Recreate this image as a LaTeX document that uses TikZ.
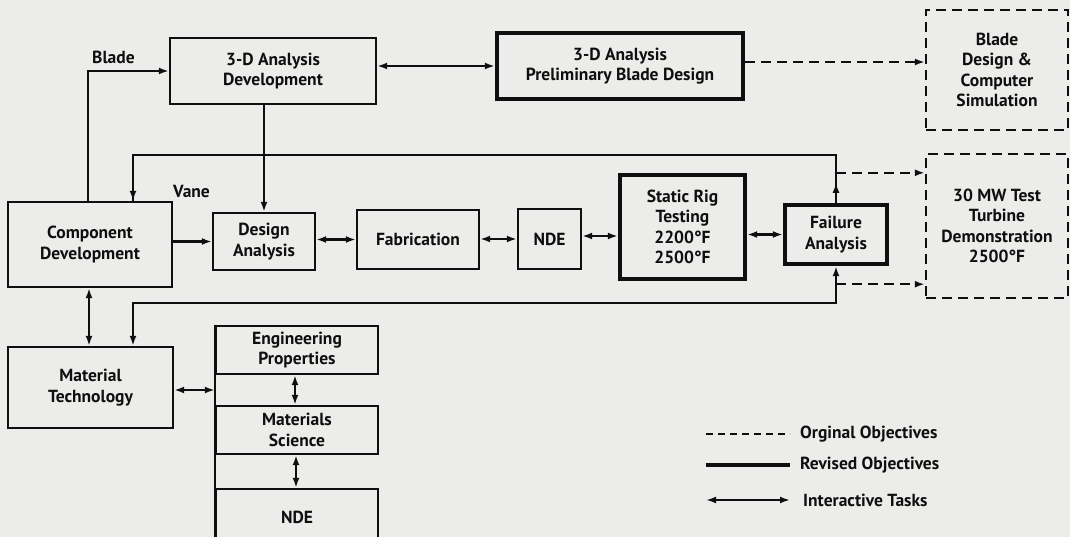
\documentclass[tikz,border=0pt]{standalone}
\usepackage{fontspec}
\setmainfont{PT Sans}
\usetikzlibrary{arrows.meta,calc}
\definecolor{paper}{RGB}{236,236,234}
\definecolor{ink}{RGB}{15,15,15}
\begin{document}
\begin{tikzpicture}[x=1pt,y=-1pt,
  font=\bfseries\fontsize{17.5}{20.5}\selectfont,
  every node/.style={text=ink},
  box/.style={draw=ink,line width=2.4pt,align=center,inner sep=0pt},
  tbox/.style={box,line width=4.4pt},
  dbox/.style={box,dash pattern=on 10pt off 6pt},
  conn/.style={draw=ink,line width=2.4pt},
  arr/.style={conn,-{Latex[length=10pt,width=7pt]}},
  biarr/.style={conn,{Latex[length=10pt,width=7pt]}-{Latex[length=10pt,width=7pt]}},
  dline/.style={dash pattern=on 10pt off 6pt},
  lbl/.style={inner sep=0pt,anchor=west},
]
\fill[paper] (0,0) rectangle (1070,537);
\useasboundingbox (0,0) rectangle (1070,537);

% boxes
\node[box,minimum width=206pt,minimum height=66pt] (dev3d) at (273,71) {3-D Analysis\\Development};
\node[tbox,minimum width=246pt,minimum height=66pt] (prelim) at (620,66) {3-D Analysis\\Preliminary Blade Design};
\node[dbox,minimum width=142pt,minimum height=120pt] (bladesim) at (997,70) {Blade\\Design \&\\Computer\\Simulation};
\node[box,minimum width=164pt,minimum height=85pt] (comp) at (90,244.5) {Component\\Development};
\node[box,minimum width=102pt,minimum height=57pt] (design) at (264,241.5) {Design\\Analysis};
\node[box,minimum width=122pt,minimum height=59pt] (fab) at (418,239.5) {Fabrication};
\node[box,minimum width=63pt,minimum height=60pt] (nde1) at (549.5,239) {NDE};
\node[tbox,minimum width=125pt,minimum height=104pt] (rig) at (682.5,227) {Static Rig\\Testing\\2200°F\\2500°F};
\node[tbox,minimum width=102pt,minimum height=59pt] (fail) at (836,234.5) {Failure\\Analysis};
\node[dbox,minimum width=142pt,minimum height=144pt] (turb) at (997,226) {30 MW Test\\Turbine\\Demonstration\\2500°F};
\node[box,minimum width=165pt,minimum height=81pt] (mattech) at (90.5,387.5) {Material\\Technology};
\node[box,minimum width=162pt,minimum height=48pt] (eng) at (297,350) {Engineering\\Properties};
\node[box,minimum width=162pt,minimum height=48pt] (matsci) at (297,430) {Materials\\Science};
\node[box,minimum width=162pt,minimum height=56pt] (nde2) at (297,517) {NDE};
\draw[conn] (eng.north west) -- (nde2.south west);

% labels
\node[lbl] (lblade) at (92,57) {Blade};
\node[lbl] (lvane) at (173,191) {Vane};

% connectors
\draw[arr] ([xshift=-2pt]comp.north) |- (dev3d.west);
\draw[biarr] (dev3d.east |- prelim.west) -- (prelim.west);
\draw[arr,dline] ([yshift=4pt]prelim.east) -- ([yshift=4pt]prelim.east -| bladesim.west);
\draw[arr] (design.north |- dev3d.south) -- (design.north);

\coordinate (vtop) at ([yshift=48pt]fail.north);
\draw[conn] (fail.north) -- (vtop) -| ([xshift=43pt]comp.north);
\draw[arr] ([xshift=43pt,yshift=20pt]comp.north) -- ([xshift=43pt]comp.north);
\draw[arr] (fail.north) -- ([yshift=20pt]fail.north);
\coordinate (j1) at ([yshift=30pt]fail.north);
\draw[arr,dline] (j1) -- (j1 -| turb.west);

\draw[biarr] (fail.south) -- ([yshift=-37pt]fail.south) -| ([xshift=42.5pt]mattech.north);
\coordinate (j2) at ([yshift=-18pt]fail.south);
\draw[arr,dline] (j2) -- (j2 -| turb.west);

\draw[arr] (comp.east |- design.west) -- (design.west);
\draw[biarr] (design.east |- fab.west) -- (fab.west);
\draw[biarr] (fab.east |- nde1.west) -- (nde1.west);
\draw[biarr] ([yshift=3pt]nde1.east) -- ([yshift=3pt]nde1.east -| rig.west);
\draw[biarr] (fail.west -| rig.east) -- (fail.west);

\draw[biarr] ([xshift=-1pt]comp.south) -- ([xshift=-1.5pt]mattech.north);
\draw[biarr] ([yshift=-2.5pt]mattech.east) -- ([yshift=-2.5pt]mattech.east -| eng.west);
\draw[biarr] ([xshift=-2pt]eng.south) -- ([xshift=-2pt]matsci.north);
\draw[biarr] ([xshift=-1pt]matsci.south) -- ([xshift=-1pt]nde2.north);

% legend
\node[lbl] (lg1) at (800,434) {Orginal Objectives};
\node[lbl] (lg2) at (800,465) {Revised Objectives};
\node[lbl] (lg3) at (803,500) {Interactive Tasks};
\coordinate (lg1s) at (706,434);
\coordinate (lg2s) at (706,465);
\coordinate (lg3s) at (706,500);
\draw[conn,dash pattern=on 7pt off 5pt] (lg1s) -- ([xshift=-10pt]lg1.west);
\draw[conn,line width=4.4pt] (lg2s) -- ([xshift=-10pt]lg2.west);
\draw[biarr] (lg3s) -- ([xshift=-13pt]lg3.west);
\end{tikzpicture}
\end{document}
